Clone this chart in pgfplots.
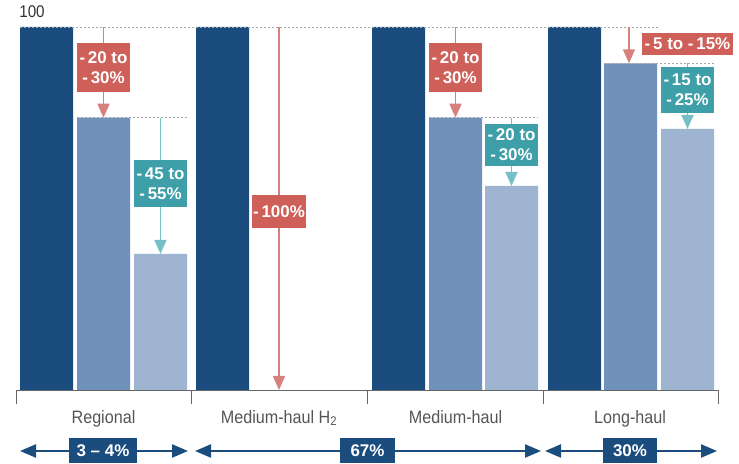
\documentclass[border=0pt]{standalone}
\usepackage{fontspec}
\setmainfont{Liberation Sans}[FakeStretch=0.9]
\newfontfamily\boxfont{Liberation Sans}
\usepackage{pgfplots}
\pgfplotsset{compat=1.18}
\usetikzlibrary{arrows.meta}
\definecolor{dark}{HTML}{1A4D7E}
\definecolor{mid}{HTML}{7091B9}
\definecolor{light}{HTML}{9EB4D1}
\definecolor{redbox}{HTML}{CF5F59}
\definecolor{redline}{HTML}{D7817C}
\definecolor{tealbox}{HTML}{3E9FA9}
\definecolor{tealline}{HTML}{74C0C6}
\definecolor{axisgray}{HTML}{666666}
\definecolor{labelgray}{HTML}{555555}
\tikzset{
  dashline/.style={gray!70, line width=0.7pt, dash pattern=on 2bp off 2bp},
  redarr/.style={redline, line width=1.6pt, -{Triangle[length=14bp,width=12bp]}},
  tealarr/.style={tealline, line width=1.6pt, -{Triangle[length=14bp,width=12bp]}},
  box/.style={text=white, font=\boxfont\bfseries\fontsize{17}{20}\selectfont, align=center,
    minimum width=53bp, inner sep=1bp},
  bluearr/.style={dark, line width=2.2pt, {Triangle[length=16bp,width=13bp]}-{Triangle[length=16bp,width=13bp]}},
  bluebox/.style={fill=dark, text=white, font=\boxfont\bfseries\fontsize{17}{19}\selectfont,
    minimum height=25bp, inner sep=1bp},
  cat/.style={text=labelgray, font=\fontsize{18}{20}\selectfont, anchor=base},
}
\begin{document}
\begin{tikzpicture}
\useasboundingbox (0,0) rectangle (739bp,464bp);
\begin{axis}[
  at={(16bp,74bp)}, anchor=south west,
  width=702bp, height=390bp, scale only axis,
  xmin=16, xmax=718, ymin=0, ymax=107.438,
  axis x line*=bottom, axis y line=none,
  xtick={16,191,367,543,718}, xticklabels={},
  major tick length=14bp, tick align=center,
  x axis line style={color=axisgray, line width=0.8pt},
  tick style={color=axisgray, line width=0.8pt},
  clip=false,
  ybar, bar shift=0pt, bar width=53,
]
\addplot[fill=dark, draw=none] coordinates {(46.5,100) (222.5,100) (398.5,100) (574.5,100)};
\addplot[fill=mid, draw=none] coordinates {(103.5,75) (455.5,75) (630.5,90)};
\addplot[fill=light, draw=none] coordinates {(160.5,37.5) (511.5,56.2) (687.5,71.9)};

\draw[dashline] (axis cs:20,100) -- (axis cs:658,100);
\draw[dashline] (axis cs:77,75) -- (axis cs:187,75);
\draw[dashline] (axis cs:429,75) -- (axis cs:538,75);
\draw[dashline] (axis cs:604,90) -- (axis cs:714,90);

% Regional
\draw[redarr] (axis cs:103.5,100) -- (axis cs:103.5,75);
\node[box, fill=redbox, minimum height=49bp] at (axis cs:103.5,88.8) {-\,20 to\\-\,30\%};
\draw[tealarr] (axis cs:160.5,75) -- (axis cs:160.5,37.5);
\node[box, fill=tealbox, minimum height=47bp] at (axis cs:160.5,56.9) {-\,45 to\\-\,55\%};
% Medium-haul H2
\draw[redarr] (axis cs:279,100) -- (axis cs:279,0);
\node[box, fill=redbox, minimum height=33bp] at (axis cs:279,49.2) {-\,100\%};
% Medium-haul
\draw[redarr] (axis cs:455.5,100) -- (axis cs:455.5,75);
\node[box, fill=redbox, minimum height=49bp] at (axis cs:455.5,88.8) {-\,20 to\\-\,30\%};
\draw[tealarr] (axis cs:511.5,75) -- (axis cs:511.5,56.2);
\node[box, fill=tealbox, minimum height=42bp] at (axis cs:511.5,67.5) {-\,20 to\\-\,30\%};
% Long-haul
\draw[redarr] (axis cs:629,100) -- (axis cs:629,90);
\node[box, fill=redbox, minimum width=91bp, minimum height=22bp] at (axis cs:687.5,95.3) {-\,5 to -\,15\%};
\draw[tealarr] (axis cs:687.5,90) -- (axis cs:687.5,71.9);
\node[box, fill=tealbox, minimum height=46bp] at (axis cs:687.5,82.6) {-\,15 to\\-\,25\%};

\node[text=black!80, font=\fontsize{17}{19}\selectfont] at (axis cs:32,104.1) {100};

\node[cat] at (axis cs:103.5,-9.1) {Regional};
\node[cat] at (axis cs:279,-9.1) {Medium-haul H\textsubscript{2}};
\node[cat] at (axis cs:455.5,-9.1) {Medium-haul};
\node[cat] at (axis cs:630,-9.1) {Long-haul};

\draw[bluearr] (axis cs:20,-16.8) -- (axis cs:188,-16.8);
\node[bluebox, minimum width=68bp] at (axis cs:103,-16.8) {3 – 4\%};
\draw[bluearr] (axis cs:195,-16.8) -- (axis cs:541,-16.8);
\node[bluebox, minimum width=55bp] at (axis cs:367.5,-16.8) {67\%};
\draw[bluearr] (axis cs:545,-16.8) -- (axis cs:717,-16.8);
\node[bluebox, minimum width=54bp] at (axis cs:630,-16.8) {30\%};
\end{axis}
\end{tikzpicture}
\end{document}
